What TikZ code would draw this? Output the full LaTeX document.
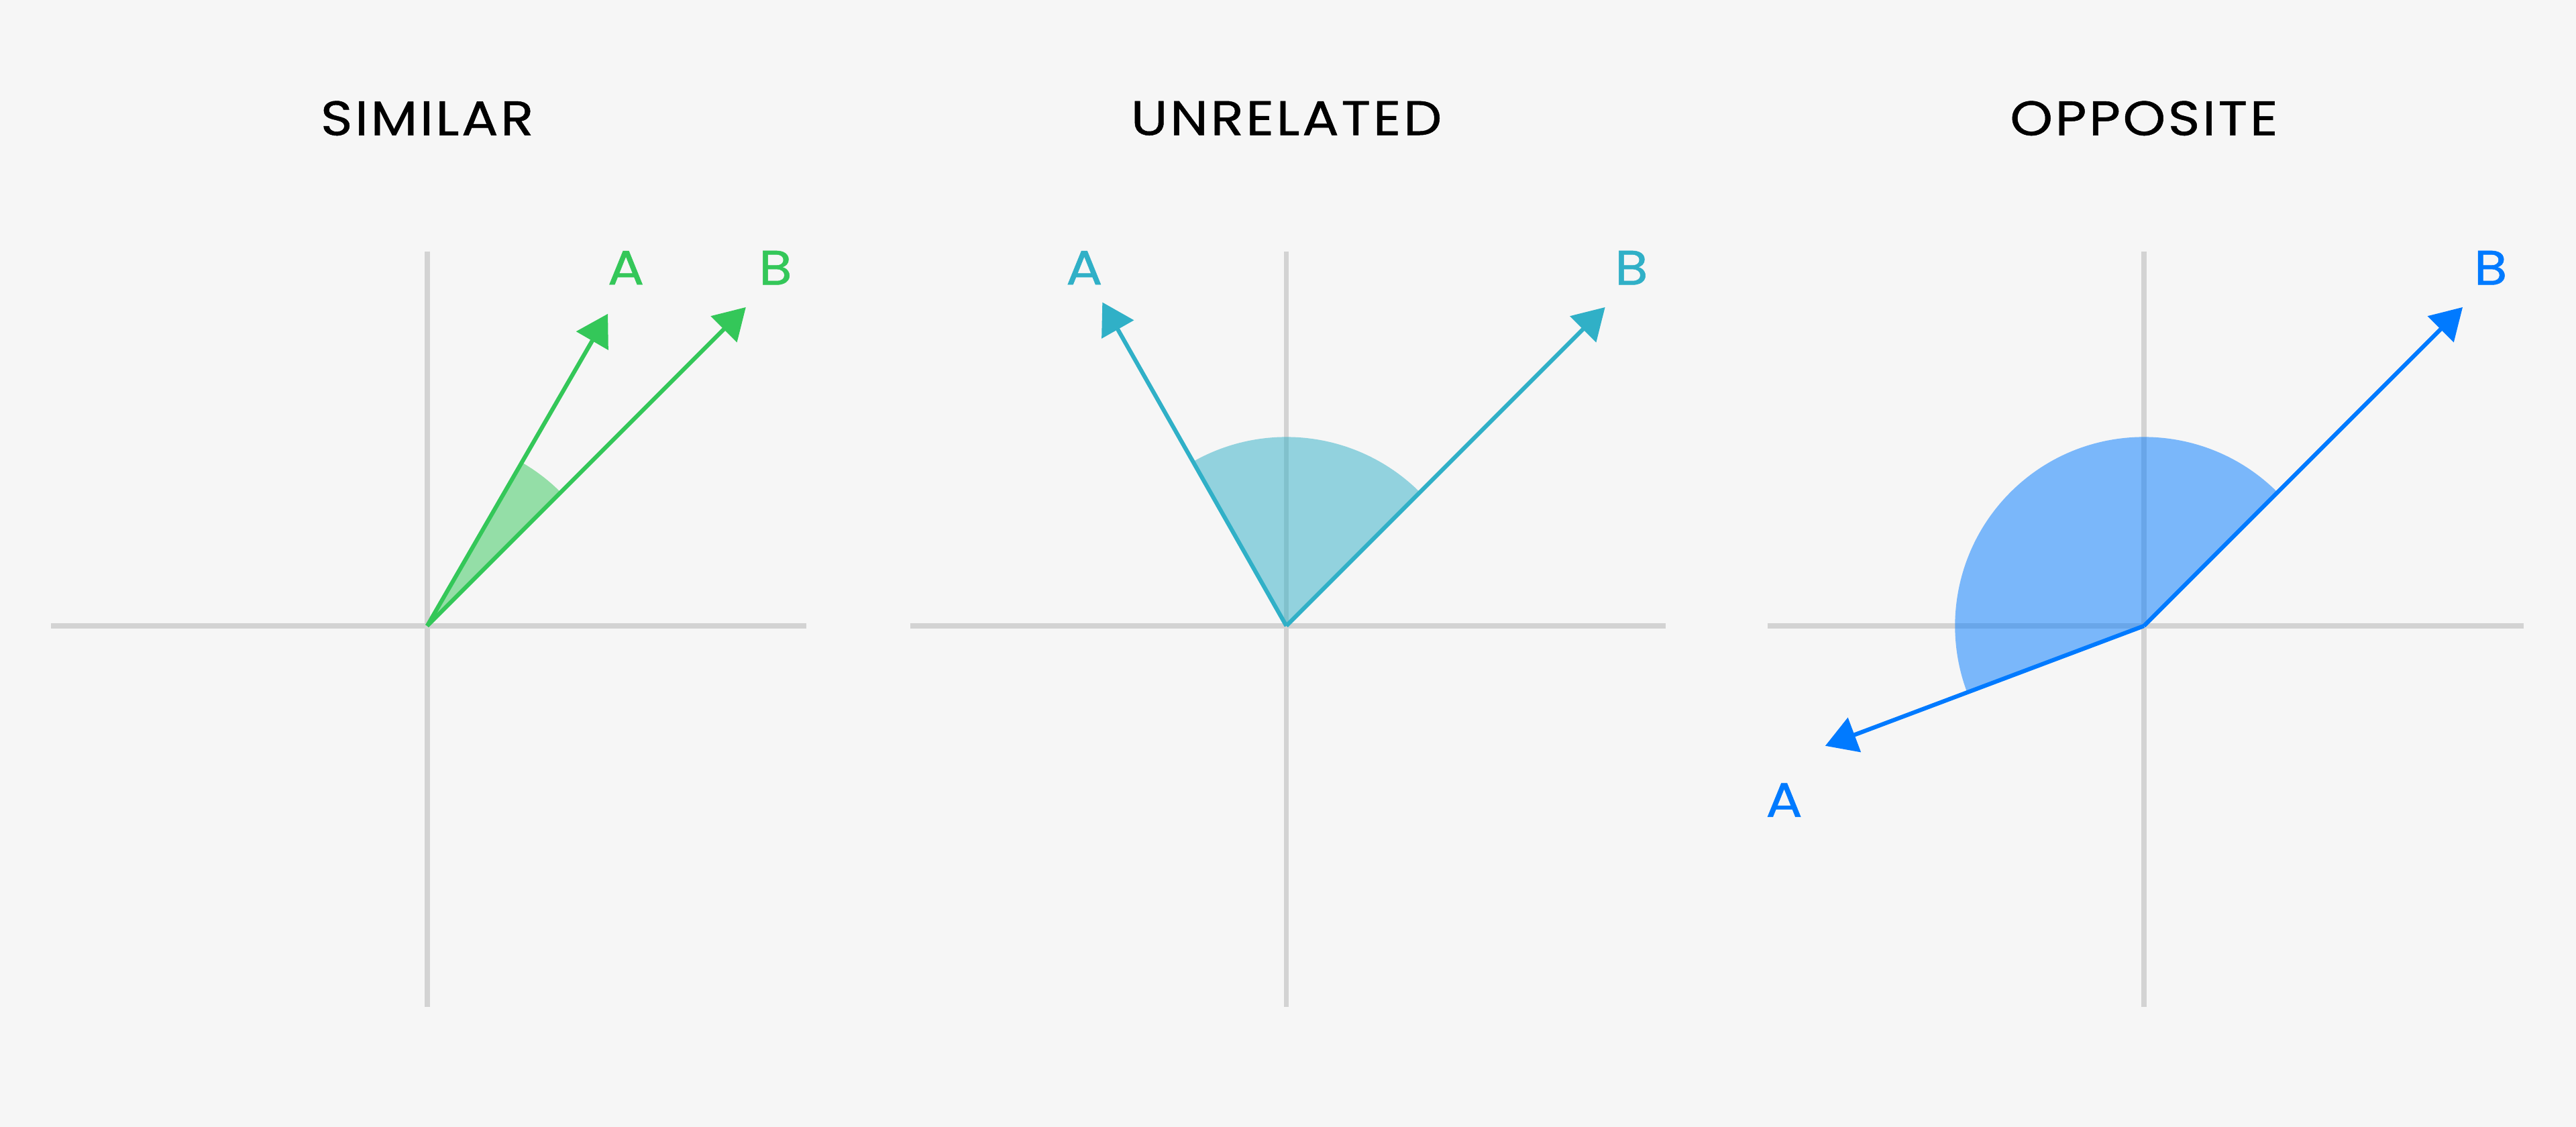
\documentclass[tikz,border=0pt]{standalone}
\usepackage{fontspec}
\setmainfont{Poppins}
\newfontfamily\diagfont{Poppins}[FakeBold=0.7, FakeStretch=1.12, LetterSpace=5]
\usetikzlibrary{arrows.meta}
\definecolor{bggray}{HTML}{F6F6F6}
\definecolor{axisgray}{HTML}{D3D3D3}
\definecolor{simgreen}{HTML}{34C759}
\definecolor{unrteal}{HTML}{30B0C7}
\definecolor{oppblue}{HTML}{007AFF}
\tikzset{>={Triangle[length=4.75mm,width=5.5mm]}}

\begin{document}
\begin{tikzpicture}[x=0.25mm, y=0.25mm]
	\tikzstyle{axis} = [draw=axisgray, line width=2.2pt]
	\tikzstyle{title} = [font=\diagfont\fontsize{21}{25}\selectfont, text=black]
	\tikzstyle{label} = [font=\diagfont\fontsize{21}{25}\selectfont]
	\tikzstyle{vec} = [->, line width=1.8pt]

	\fill[bggray] (0,0) rectangle (1568,686);
	\useasboundingbox (0,0) rectangle (1568,686);

%----------Similar------------------------------
	\node[title] (t1) at (260,614) {SIMILAR};
	\coordinate (o1) at (260,305);
	\coordinate (n1) at (260,533);
	\coordinate (s1) at (260,73);
	\coordinate (w1) at (31,305);
	\coordinate (e1) at (491,305);
	\draw[axis] (n1)--(s1);
	\draw[axis] (w1)--(e1);

	\fill[simgreen, opacity=0.5] (o1) -- ++(45:115) arc[start angle=45, end angle=60, radius=115] -- cycle;

	\coordinate (a1) at (370,495);
	\coordinate (b1) at (454,499);
	\draw[vec, simgreen] (o1)--(a1);
	\draw[vec, simgreen] (o1)--(b1);
	\node[label, text=simgreen] (la1) at (381,523) {A};
	\node[label, text=simgreen] (lb1) at (472,523) {B};

%----------Unrelated----------------------------
	\node[title] (t2) at (783,614) {UNRELATED};
	\coordinate (o2) at (783,305);
	\coordinate (n2) at (783,533);
	\coordinate (s2) at (783,73);
	\coordinate (w2) at (554,305);
	\coordinate (e2) at (1014,305);
	\draw[axis] (n2)--(s2);
	\draw[axis] (w2)--(e2);

	\fill[unrteal, opacity=0.5] (o2) -- ++(45:115) arc[start angle=45, end angle=120, radius=115] -- cycle;

	\coordinate (a2) at (671,502);
	\coordinate (b2) at (977,499);
	\draw[vec, unrteal] (o2)--(a2);
	\draw[vec, unrteal] (o2)--(b2);
	\node[label, text=unrteal] (la2) at (660,523) {A};
	\node[label, text=unrteal] (lb2) at (993,523) {B};

%----------Opposite-----------------------------
	\node[title] (t3) at (1305,614) {OPPOSITE};
	\coordinate (o3) at (1305,305);
	\coordinate (n3) at (1305,533);
	\coordinate (s3) at (1305,73);
	\coordinate (w3) at (1076,305);
	\coordinate (e3) at (1536,305);
	\draw[axis] (n3)--(s3);
	\draw[axis] (w3)--(e3);

	\fill[oppblue, opacity=0.5] (o3) -- ++(45:115) arc[start angle=45, end angle=200.6, radius=115] -- cycle;

	\coordinate (a3) at (1111,232);
	\coordinate (b3) at (1499,499);
	\draw[vec, oppblue] (o3)--(a3);
	\draw[vec, oppblue] (o3)--(b3);
	\node[label, text=oppblue] (la3) at (1086,199) {A};
	\node[label, text=oppblue] (lb3) at (1516,523) {B};
\end{tikzpicture}
\end{document}
